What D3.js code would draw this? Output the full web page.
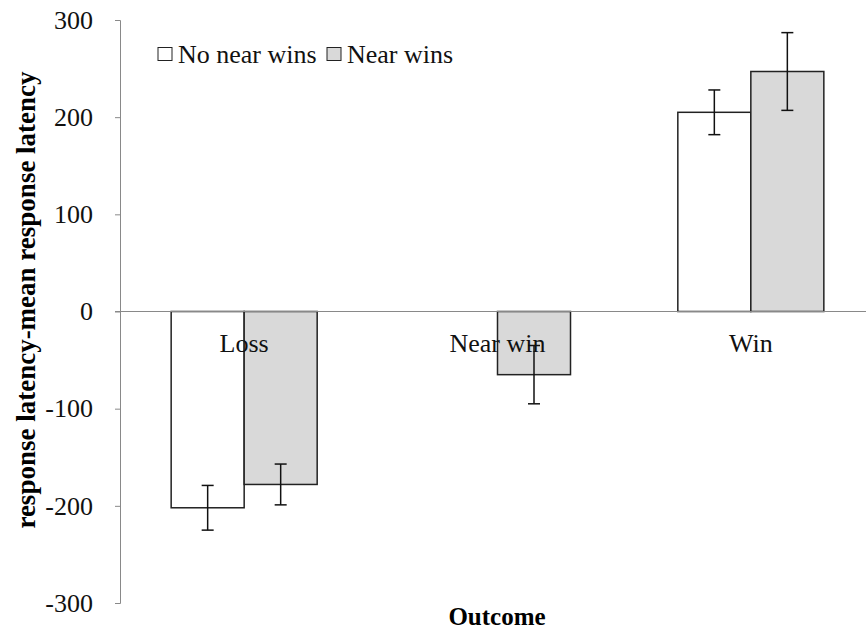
<!DOCTYPE html>
<html>
<head>
<meta charset="utf-8">
<script src="https://cdn.jsdelivr.net/npm/d3@7"></script>
<style>
  html, body { margin: 0; padding: 0; background: #fff; }
  svg { display: block; }
  svg text { font-family: "Liberation Serif", "Times New Roman", serif; }
</style>
</head>
<body>
<svg id="chart" width="866" height="632"></svg>
<script>
// Outcome categories and the two groups compared
const categories = ["Loss", "Near win", "Win"];
const series = ["No near wins", "Near wins"];

// Mean (response latency - mean response latency) per outcome, per group
const noNearWinsValues = [-202, 0, 205];
const nearWinsValues = [-178, -65, 247];

// Error bar half-lengths (same units)
const noNearWinsErrors = [23, null, 23];
const nearWinsErrors = [21, 30, 40];

const yTicks = [-300, -200, -100, 0, 100, 200, 300];
const fills = ["#ffffff", "#d9d9d9"];
const serif = "'Liberation Serif', 'Times New Roman', serif";

const svg = d3.select("#chart");

const y = d3.scaleLinear().domain([-300, 300]).range([603, 20]);
const x0 = d3.scaleBand().domain(categories).range([117.5, 877.5]);
const x1 = d3.scaleBand().domain(series).range([0, x0.bandwidth()]).paddingOuter(0.735);

const rows = [];
categories.forEach((c, i) => {
  rows.push({ cat: c, s: series[0], v: noNearWinsValues[i], e: noNearWinsErrors[i], k: 0 });
  rows.push({ cat: c, s: series[1], v: nearWinsValues[i], e: nearWinsErrors[i], k: 1 });
});

// Y axis
const yAxis = d3.axisLeft(y).tickValues(yTicks).tickSize(5).tickPadding(22).tickFormat(d => String(d));
const gy = svg.append("g").attr("transform", "translate(120,0)").call(yAxis);
gy.attr("font-family", null).attr("font-size", null);
gy.select(".domain").attr("stroke", "#898989").attr("stroke-width", 1);
gy.selectAll(".tick line").attr("stroke", "#898989");
gy.selectAll(".tick text").attr("fill", "#111").style("font-size", "26px")
  .style("font-family", serif);

// Bars (zero-valued entries have no visible bar)
const bars = rows.filter(d => d.v !== 0);
svg.append("g").selectAll("rect").data(bars).join("rect")
  .attr("x", d => x0(d.cat) + x1(d.s))
  .attr("width", x1.bandwidth())
  .attr("y", d => y(Math.max(0, d.v)))
  .attr("height", d => Math.abs(y(d.v) - y(0)))
  .attr("fill", d => fills[d.k])
  .attr("stroke", "#222")
  .attr("stroke-width", 1.5);

// Zero line across the plot
svg.append("line")
  .attr("x1", 115).attr("x2", 866)
  .attr("y1", y(0)).attr("y2", y(0))
  .attr("stroke", "#898989").attr("stroke-width", 1);

// Category labels sit just under the zero line
svg.append("g").selectAll("text").data(categories).join("text")
  .attr("x", d => x0(d) + x0.bandwidth() / 2)
  .attr("y", y(0) + 40)
  .attr("text-anchor", "middle")
  .style("font-size", "26px")
  .style("font-family", serif)
  .attr("fill", "#111")
  .text(d => d);

// Error bars
const errs = rows.filter(d => d.e != null);
const eg = svg.append("g").attr("stroke", "#111").attr("stroke-width", 1.5);
errs.forEach(d => {
  const cx = x0(d.cat) + x1(d.s) + x1.bandwidth() / 2;
  eg.append("line").attr("x1", cx).attr("x2", cx).attr("y1", y(d.v + d.e)).attr("y2", y(d.v - d.e));
  [d.v + d.e, d.v - d.e].forEach(v => {
    eg.append("line").attr("x1", cx - 6).attr("x2", cx + 6).attr("y1", y(v)).attr("y2", y(v));
  });
});

// Legend
const legend = svg.append("g");
const legendX = [158, 327];
series.forEach((s, i) => {
  legend.append("rect")
    .attr("x", legendX[i]).attr("y", 47.5).attr("width", 14).attr("height", 13)
    .attr("fill", fills[i]).attr("stroke", "#222").attr("stroke-width", 1);
  legend.append("text")
    .attr("x", legendX[i] + 20).attr("y", 63)
    .style("font-size", "26px").style("font-family", serif).attr("fill", "#111")
    .text(s);
});

// Axis titles
svg.append("text")
  .attr("transform", `translate(35,300) rotate(-90)`)
  .attr("text-anchor", "middle")
  .style("font-size", "27px").style("font-weight", "bold").style("font-family", serif)
  .text("response latency-mean response latency");

svg.append("text")
  .attr("x", 497).attr("y", 625)
  .attr("text-anchor", "middle")
  .style("font-size", "25px").style("font-weight", "bold").style("font-family", serif)
  .text("Outcome");
</script>
</body>
</html>
